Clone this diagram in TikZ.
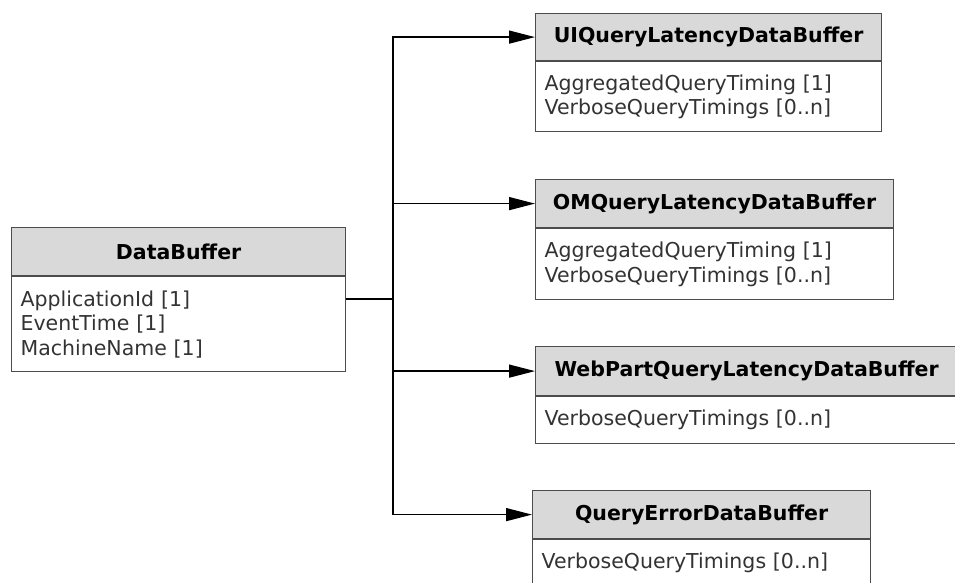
\documentclass[tikz,border=0pt]{standalone}
\usepackage{fontspec}
\setmainfont{DejaVu Sans}
\usetikzlibrary{arrows.meta,positioning}

\tikzset{
  head/.style = {draw=black!70, line width=1.2, fill=gray!30, font=\fontsize{20.5}{24}\selectfont\bfseries,
                 minimum height=48, inner sep=0, anchor=north west},
  body/.style = {draw=black!70, line width=1.2, fill=white, text=black!80, font=\fontsize{20.5}{24.5}\selectfont,
                 align=left, inner xsep=9, inner ysep=0, anchor=north west, below=0 of #1},
  link/.style = {line width=1.4, black},
  arrow/.style = {link, -{Triangle[length=26,width=13]}}
}

\begin{document}
\begin{tikzpicture}[x=1pt, y=-1pt]
\useasboundingbox (0,0) rectangle (955,582);
% DataBuffer
\node[head, minimum width=334] (dbh) at (11,227) {DataBuffer};
\node[body=dbh, text width=316, minimum height=95] (dbb) {ApplicationId [1]\\EventTime [1]\\MachineName [1]};
% UIQueryLatencyDataBuffer
\node[head, minimum width=346, minimum height=47] (uih) at (535,13) {UIQueryLatencyDataBuffer};
\node[body=uih, text width=328, minimum height=70] (uib) {AggregatedQueryTiming [1]\\VerboseQueryTimings [0..n]};
% OMQueryLatencyDataBuffer
\node[head, minimum width=358] (omh) at (535,179) {OMQueryLatencyDataBuffer};
\node[body=omh, text width=340, minimum height=71] (omb) {AggregatedQueryTiming [1]\\VerboseQueryTimings [0..n]};
% WebPartQueryLatencyDataBuffer
\node[head, minimum width=422, minimum height=49] (wph) at (535,346) {WebPartQueryLatencyDataBuffer};
\node[body=wph, text width=404, minimum height=47] (wpb) {VerboseQueryTimings [0..n]};
% QueryErrorDataBuffer
\node[head, minimum width=338] (qeh) at (532,490) {QueryErrorDataBuffer};
\node[body=qeh, text width=320, minimum height=47] (qeb) {VerboseQueryTimings [0..n]};

% connectors
\coordinate (hub) at (393,299);
\draw[link] (dbb.east |- hub) -- (hub);
\draw[arrow] (hub) |- (uih.west);
\draw[arrow] (hub) |- (omh.west);
\draw[arrow] (hub) |- (wph.west);
\draw[arrow] (hub) |- (qeh.west);
\end{tikzpicture}
\end{document}
